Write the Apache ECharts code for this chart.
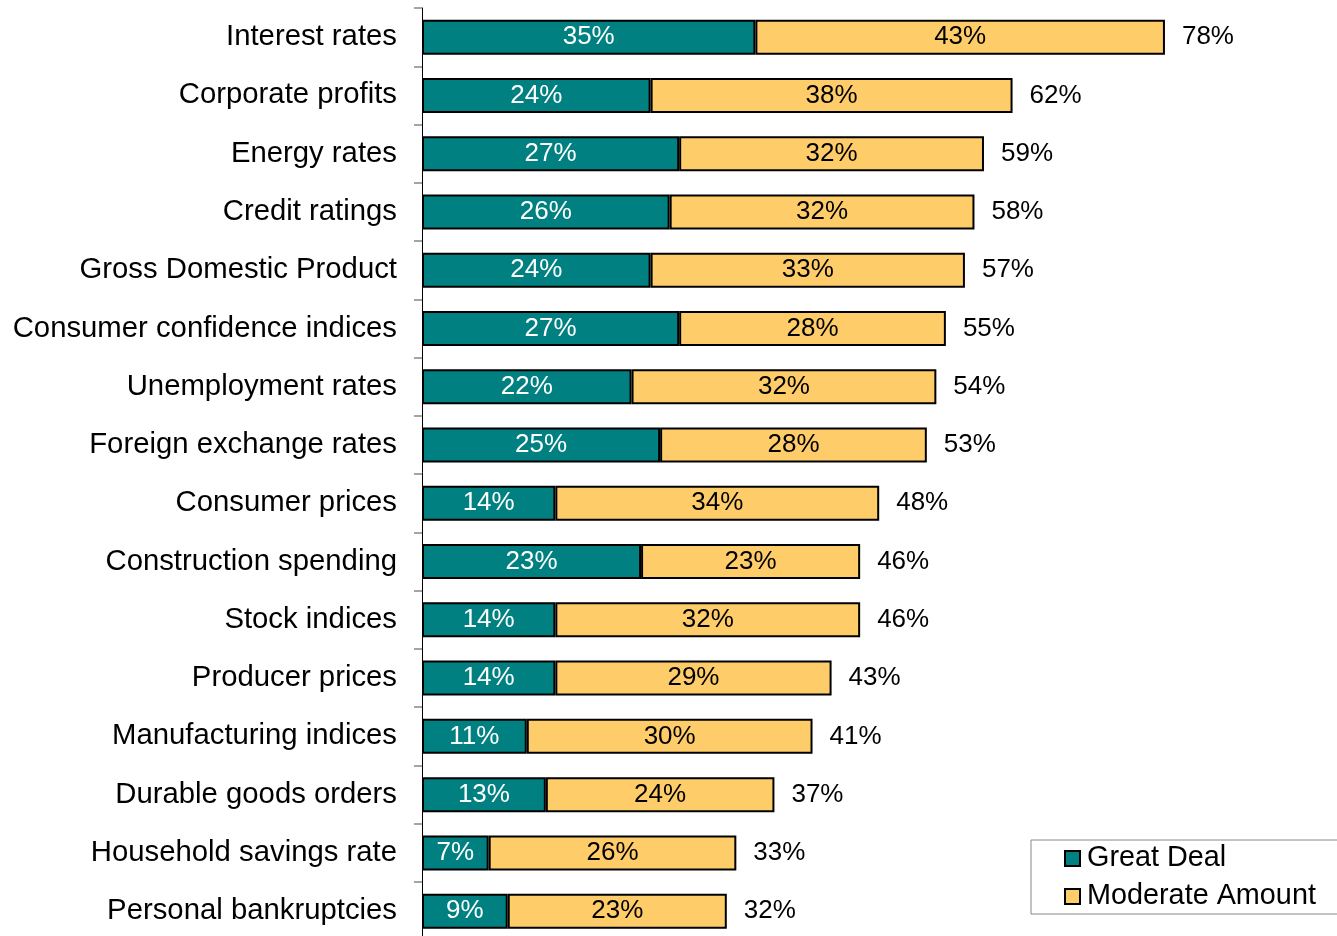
<!DOCTYPE html>
<html>
<head>
<meta charset="utf-8">
<script src="https://cdn.jsdelivr.net/npm/echarts@6/dist/echarts.min.js"></script>
<style>
  html, body { margin: 0; padding: 0; background: #fff; }
  #chart { width: 1337px; height: 936px; }
</style>
</head>
<body>
<div id="chart"></div>
<script>
// Factors and the share of respondents weighing each one
const categories = [
  'Interest rates', 'Corporate profits', 'Energy rates', 'Credit ratings',
  'Gross Domestic Product', 'Consumer confidence indices', 'Unemployment rates',
  'Foreign exchange rates', 'Consumer prices', 'Construction spending',
  'Stock indices', 'Producer prices', 'Manufacturing indices',
  'Durable goods orders', 'Household savings rate', 'Personal bankruptcies'
];
const greatDeal = [35, 24, 27, 26, 24, 27, 22, 25, 14, 23, 14, 14, 11, 13, 7, 9];
const moderateAmount = [43, 38, 32, 32, 33, 28, 32, 28, 34, 23, 32, 29, 30, 24, 26, 23];
const seriesNames = ['Great Deal', 'Moderate Amount'];

const totals = greatDeal.map((v, i) => v + moderateAmount[i]);

const FONT = '"Liberation Sans", Arial, sans-serif';
const chart = echarts.init(document.getElementById('chart'), null, { renderer: 'canvas' });

chart.setOption({
  animation: false,
  textStyle: { fontFamily: FONT },
  grid: {
    left: 422, top: 8, width: 952.5, height: 932.3,
    containLabel: false,
    outerBoundsMode: 'none'
  },
  legend: {
    orient: 'vertical',
    left: 1031,
    top: 840,
    data: seriesNames,
    icon: 'rect',
    itemWidth: 15,
    itemHeight: 15,
    itemGap: 9,
    padding: [4, 30, 3, 33],
    borderColor: '#888',
    borderWidth: 1,
    itemStyle: { borderColor: '#000', borderWidth: 2 },
    textStyle: { fontFamily: FONT, fontSize: 28.8, color: '#000', padding: [0, 0, 0, 2] }
  },
  xAxis: {
    type: 'value',
    min: 0,
    max: 100,
    show: false
  },
  yAxis: {
    type: 'category',
    data: categories,
    inverse: true,
    axisLine: { show: true, lineStyle: { color: '#000', width: 1 } },
    axisTick: { show: true, length: 8, lineStyle: { color: '#888', width: 1.5 } },
    axisLabel: {
      fontFamily: FONT, fontSize: 29.3, color: '#000', margin: 25,
      padding: [4, 0, 0, 0]
    },
    splitLine: { show: false }
  },
  series: [
    {
      name: seriesNames[0],
      type: 'bar',
      stack: 'total',
      barWidth: 35,
      data: greatDeal,
      itemStyle: { color: '#008080', borderColor: '#000', borderWidth: 2 },
      label: {
        show: true, position: 'inside', color: '#fff',
        fontFamily: FONT, fontSize: 26, formatter: '{c}%', padding: [2, 0, 0, 0]
      }
    },
    {
      name: seriesNames[1],
      type: 'bar',
      stack: 'total',
      barWidth: 35,
      data: moderateAmount,
      itemStyle: { color: '#FFCC6A', borderColor: '#000', borderWidth: 2 },
      label: {
        show: true, position: 'inside', color: '#000',
        fontFamily: FONT, fontSize: 26, formatter: '{c}%', padding: [3, 0, 0, 0]
      }
    },
    {
      // total value printed past the end of each bar
      name: 'Total',
      type: 'scatter',
      data: totals.map((t, i) => [t, categories[i]]),
      symbolSize: 0,
      silent: true,
      itemStyle: { opacity: 1 },
      label: {
        show: true, position: 'right', distance: 17, color: '#000',
        fontFamily: FONT, fontSize: 26, padding: [2, 0, 0, 0],
        formatter: p => p.value[0] + '%'
      }
    }
  ]
});
</script>
</body>
</html>
